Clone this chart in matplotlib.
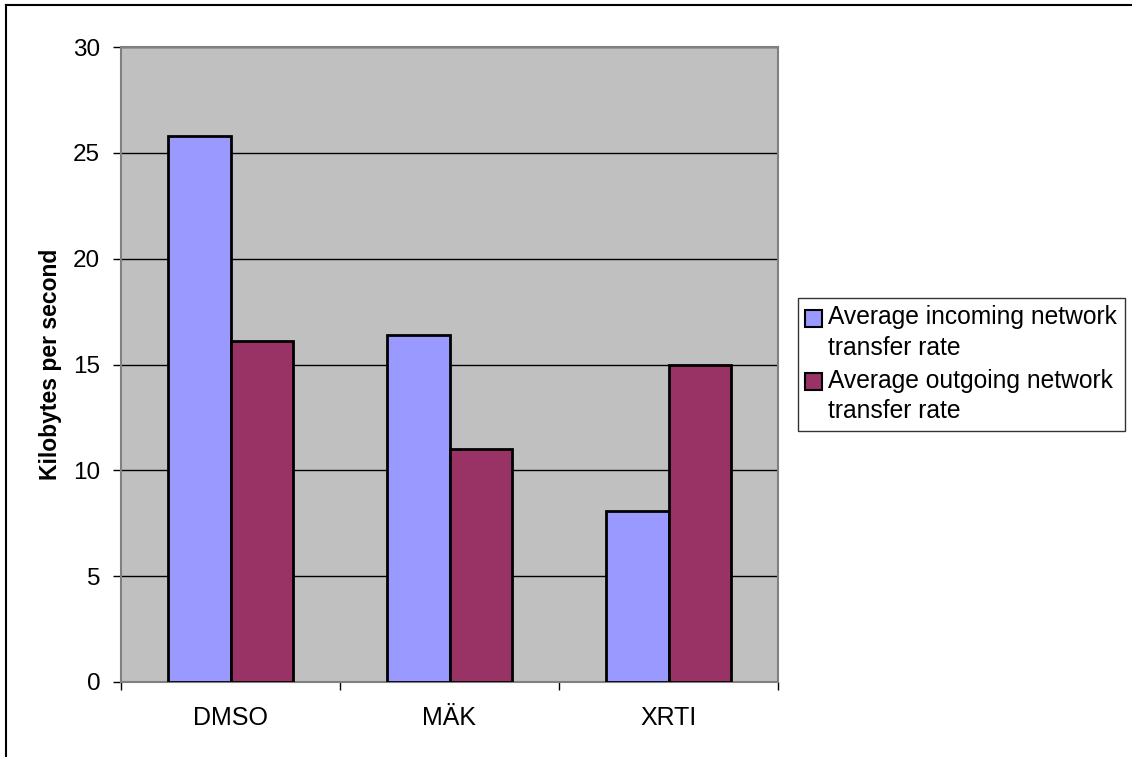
import numpy as np
import matplotlib
matplotlib.use("Agg")
import matplotlib.pyplot as plt
from matplotlib.lines import Line2D
from matplotlib.patches import Rectangle
from matplotlib.container import BarContainer
from matplotlib.legend_handler import HandlerPatch, update_from_first_child

# data
categories = ["DMSO", "MÄK", "XRTI"]
incoming = [25.8, 16.4, 8.1]
outgoing = [16.1, 11.0, 15.0]
series_names = ["Average incoming network\ntransfer rate",
                "Average outgoing network\ntransfer rate"]
y_ticks = [0, 5, 10, 15, 20, 25, 30]

plt.rcParams["font.family"] = ["Liberation Sans", "DejaVu Sans"]

LEG_FS = 17.7


def top_square(legend, orig_handle, xdescent, ydescent, width, height,
               fontsize):
    # move the swatch up so it lines up with the first text line
    shift = 0.62 * fontsize
    return Rectangle((-xdescent, -ydescent + shift), width, height)


fig = plt.figure(figsize=(11.32, 7.57), dpi=100)
ax = fig.add_axes([121 / 1132, 75 / 757, 657 / 1132, 635 / 757])
ax.set_facecolor("#C0C0C0")

x = np.arange(len(categories))
w = 0.286
ax.bar(x - w / 2, incoming, w, color="#9999FF", edgecolor="black",
       linewidth=2, label=series_names[0], zorder=3)
ax.bar(x + w / 2, outgoing, w, color="#993366", edgecolor="black",
       linewidth=2, label=series_names[1], zorder=3)

ax.set_xlim(-0.5, len(categories) - 0.5)
ax.set_ylim(0, 30)
ax.set_yticks(y_ticks)
ax.yaxis.grid(True, color="black", linewidth=1, zorder=1)
ax.set_axisbelow(True)

# category labels sit between the tick marks at group boundaries
ax.set_xticks(np.arange(len(categories) + 1) - 0.5)
ax.set_xticklabels([])
ax.set_xticks(x, minor=True)
ax.set_xticklabels(categories, minor=True, fontsize=18)
ax.tick_params(axis="x", which="minor", length=0, pad=17)
ax.tick_params(axis="x", which="major", length=6, width=1, color="black")
ax.tick_params(axis="y", length=6, width=1, labelsize=17.5, pad=9)

for side in ["left", "right", "top", "bottom"]:
    ax.spines[side].set_color("#808080")
    ax.spines[side].set_linewidth(1.5)

ax.set_ylabel("Kilobytes per second", fontsize=16.5, fontweight="bold",
              labelpad=8)

handler = HandlerPatch(patch_func=top_square,
                       update_func=update_from_first_child)
leg = fig.legend(loc="upper left", bbox_to_anchor=(798 / 1132, 1 - 298 / 757),
                 fontsize=LEG_FS, frameon=True, fancybox=False,
                 edgecolor="black", handlelength=0.69, handleheight=0.69,
                 handletextpad=0.25, borderpad=0.3, labelspacing=0.35,
                 borderaxespad=0, handler_map={BarContainer: handler})
leg.get_frame().set_linewidth(1)
for t in leg.get_texts():
    t.set_linespacing(1.35)
for h in leg.legend_handles:
    h.set_linewidth(1.5)

# chart border (only the top and left edges show in the picture)
fig.add_artist(Line2D([6 / 1132, 6 / 1132], [0, 1 - 5 / 757],
                      color="black", linewidth=1.5, transform=fig.transFigure))
fig.add_artist(Line2D([6 / 1132, 1], [1 - 5 / 757, 1 - 5 / 757],
                      color="black", linewidth=1.5, transform=fig.transFigure))

fig.savefig("out.png", dpi=100)
